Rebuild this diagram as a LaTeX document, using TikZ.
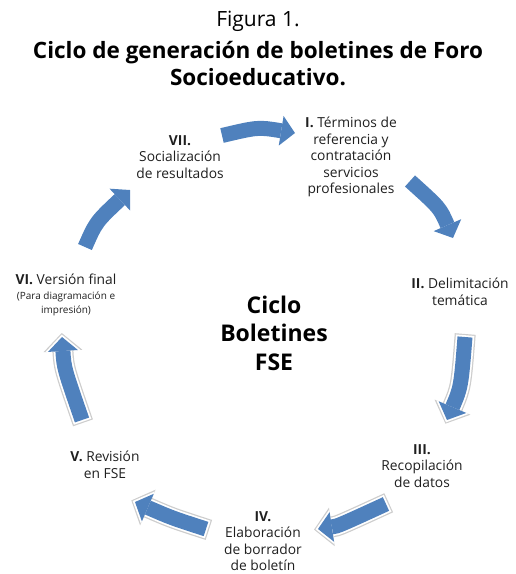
\documentclass[tikz,border=0pt]{standalone}
\usepackage{fontspec}
\setmainfont{Open Sans}
\usetikzlibrary{arrows.meta}
\definecolor{arrowblue}{RGB}{79,129,189}
\definecolor{rimgray}{RGB}{205,205,205}
\tikzset{
  lbl/.style={align=center, inner sep=0pt, text=black!88, font=\fontsize{13.8}{16.5}\selectfont},
  blk/.style={draw=arrowblue, line width=15pt, -{Triangle[length=14pt,width=30pt,line width=0pt]}},
  rimA/.style={draw=rimgray, line width=21pt, shorten >=-4pt, shorten <=-3pt, -{Triangle[length=18pt,width=39pt,line width=0pt]}},
  rimB/.style={draw=white, line width=18.5pt, shorten >=-2.5pt, shorten <=-1.8pt, -{Triangle[length=16.5pt,width=35pt,line width=0pt]}},
}
\begin{document}
\begin{tikzpicture}[x=1pt,y=-1pt]
\useasboundingbox (0,0) rectangle (516,574);
% titles
\node[inner sep=0pt, font=\fontsize{21}{24}\selectfont] (fig) at (258,21) {Figura 1.};
\node[inner sep=0pt, align=center, font=\bfseries\fontsize{22.5}{27}\selectfont] (title) at (258,64) {Ciclo de generación de boletines de Foro\\Socioeducativo.};
% center
\node[inner sep=0pt, align=center, font=\bfseries\fontsize{23}{28.5}\selectfont] (center) at (274,333) {Ciclo\\Boletines\\FSE};
% labels
\node[lbl] (s7) at (180,157) {\textbf{VII.}\\Socialización\\de resultados};
\node[lbl] (s1) at (351,157) {\textbf{I.} Términos de\\referencia y\\contratación\\servicios\\profesionales};
\node[lbl] (s2) at (460,292) {\textbf{II.} Delimitación\\temática};
\node[lbl] (s3) at (422,466) {\textbf{III.}\\Recopilación\\de datos};
\node[lbl] (s4) at (263,541) {\textbf{IV.}\\Elaboración\\de borrador\\de boletín};
\node[lbl] (s5) at (105,465) {\textbf{V.} Revisión\\en FSE};
\node[lbl, font=\fontsize{13.8}{14.5}\selectfont] (s6) at (66,295) {\textbf{VI.} Versión final\\{\fontsize{10}{13}\selectfont (Para diagramación e}\\{\fontsize{10}{13}\selectfont impresión)}};
% arrow coordinates
\coordinate (a0) at (222,135.5); \coordinate (ac) at (258,127); \coordinate (a1) at (295,133);
\coordinate (b0) at (410,181);   \coordinate (bc) at (440,208); \coordinate (b1) at (453,238);
\coordinate (c0) at (465,337);   \coordinate (cc) at (461,387); \coordinate (c1) at (447,420);
\coordinate (d0) at (386,504);   \coordinate (dc) at (338,526); \coordinate (d1) at (318,529);
\coordinate (e0) at (206,529);   \coordinate (ec) at (172,518); \coordinate (e1) at (135,502);
\coordinate (f0) at (82,420);    \coordinate (fc) at (64,368);  \coordinate (f1) at (62,337);
\coordinate (g0) at (85,247);    \coordinate (gc) at (96,222);  \coordinate (g1) at (130,190);
% plain arrows
\draw[blk] (a0) .. controls (ac) .. (a1);
\draw[blk] (b0) .. controls (bc) .. (b1);
\draw[blk] (g0) .. controls (gc) .. (g1);
% outlined arrows
\foreach \p in {c,d,e,f}{
  \draw[rimA] (\p0) .. controls (\p c) .. (\p1);
  \draw[rimB] (\p0) .. controls (\p c) .. (\p1);
  \draw[blk] (\p0) .. controls (\p c) .. (\p1);
}
\end{tikzpicture}
\end{document}
